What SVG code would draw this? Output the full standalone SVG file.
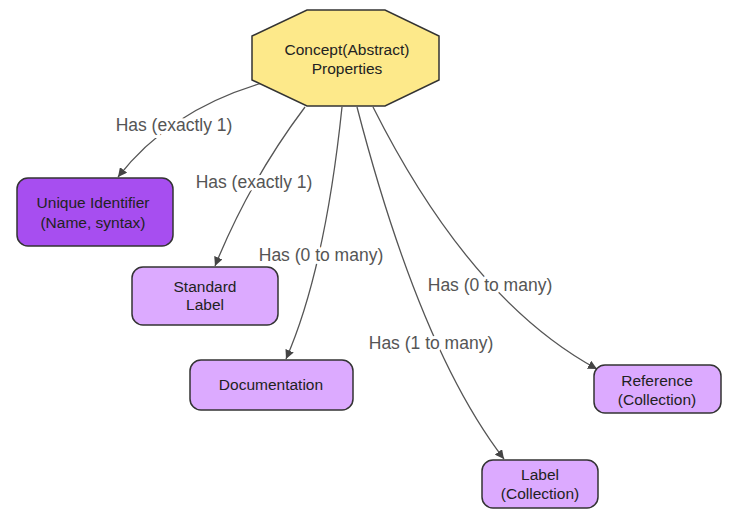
<svg xmlns="http://www.w3.org/2000/svg" width="732" height="510" viewBox="0 0 732 510">
<defs>
<marker id="arr" viewBox="0 0 10 10" refX="10" refY="5" markerWidth="9" markerHeight="9" markerUnits="userSpaceOnUse" orient="auto">
<path d="M0,0 L10,5 L0,10 z" fill="#444"/>
</marker>
</defs>
<style>
.box{stroke:#333;stroke-width:1.5}
.dark{fill:#a74ef0}
.light{fill:#dcaaff}
.nt{font-family:"Liberation Sans",Arial,sans-serif;font-size:15.5px;fill:#222;text-anchor:middle}
.edge{fill:none;stroke:#555;stroke-width:1.3;marker-end:url(#arr)}
.lbl{font-family:"Liberation Sans",Arial,sans-serif;font-size:17.5px;fill:#555;text-anchor:middle;stroke:#fff;stroke-width:6;paint-order:stroke;stroke-linejoin:round}
</style>
<rect width="732" height="510" fill="#fff"/>
<g id="connectors">
<path class="edge" d="M262,83 Q170,110 118,177"/>
<path class="edge" d="M305,107 Q250,180 215,266"/>
<path class="edge" d="M342,107 Q325,270 286,359"/>
<path class="edge" d="M357,107 Q420,350 504,459"/>
<path class="edge" d="M373,107 Q470,300 597,369"/>
<text class="lbl" x="174" y="131">Has (exactly 1)</text>
<text class="lbl" x="254" y="188">Has (exactly 1)</text>
<text class="lbl" x="321" y="261">Has (0 to many)</text>
<text class="lbl" x="431" y="349">Has (1 to many)</text>
<text class="lbl" x="490" y="291">Has (0 to many)</text>
</g>
<g id="concept">
<polygon class="box" fill="#fde98a" points="307,10 385,10 439,36 439,80 385,106 307,106 252,80 252,36"/>
<text class="nt" x="347" y="55">Concept(Abstract)</text>
<text class="nt" x="347" y="74">Properties</text>
</g>
<g id="unique-identifier">
<rect class="box dark" x="17" y="178" width="156" height="68" rx="11"/>
<text class="nt" x="93" y="208">Unique Identifier</text>
<text class="nt" x="93" y="228">(Name, syntax)</text>
</g>
<g id="standard-label">
<rect class="box light" x="132" y="267" width="146" height="58" rx="11"/>
<text class="nt" x="205" y="292">Standard</text>
<text class="nt" x="205" y="310">Label</text>
</g>
<g id="documentation">
<rect class="box light" x="190" y="360" width="163" height="50" rx="11"/>
<text class="nt" x="271" y="390">Documentation</text>
</g>
<g id="label-collection">
<rect class="box light" x="482" y="460" width="116" height="48" rx="11"/>
<text class="nt" x="540" y="480">Label</text>
<text class="nt" x="540" y="499">(Collection)</text>
</g>
<g id="reference-collection">
<rect class="box light" x="594" y="365" width="127" height="48" rx="11"/>
<text class="nt" x="657" y="386">Reference</text>
<text class="nt" x="657" y="405">(Collection)</text>
</g>
</svg>
